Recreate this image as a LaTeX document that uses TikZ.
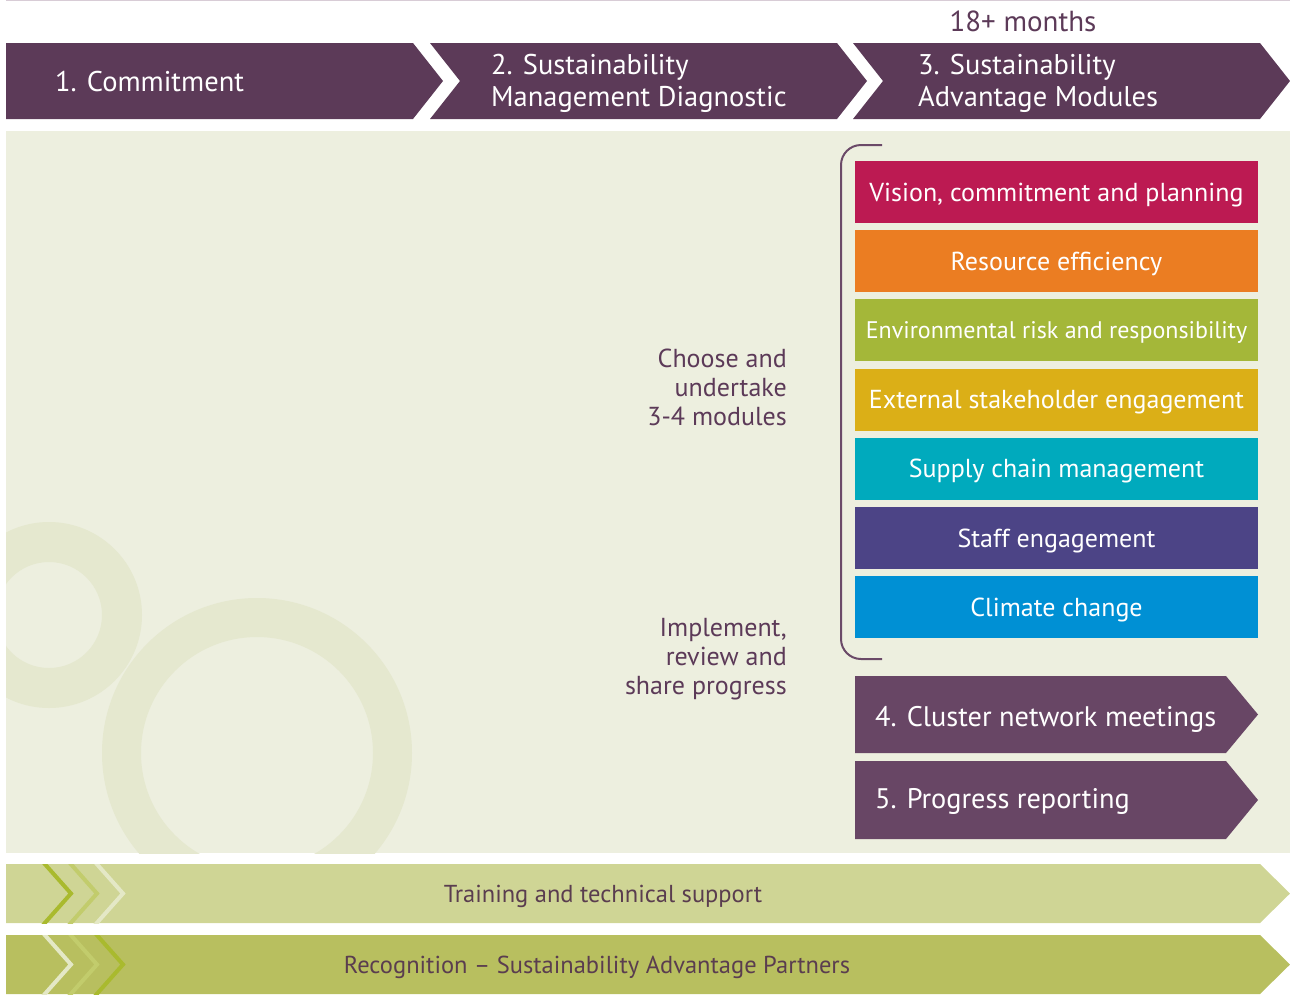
\documentclass[tikz,border=0pt]{standalone}
\usepackage{fontspec}
\setmainfont{PT Sans}
\definecolor{hdr}{HTML}{5C3A58}
\definecolor{topline}{HTML}{D8CCD6}
\definecolor{panel}{HTML}{EDEFDF}
\definecolor{ring}{HTML}{E5E8CF}
\definecolor{brk}{HTML}{6B4A68}
\definecolor{mvision}{HTML}{BC1A52}
\definecolor{mres}{HTML}{EB7D22}
\definecolor{menv}{HTML}{A4B739}
\definecolor{mext}{HTML}{DBAF17}
\definecolor{msup}{HTML}{00AABD}
\definecolor{mstaff}{HTML}{4C4486}
\definecolor{mclim}{HTML}{0090D4}
\definecolor{clus}{HTML}{684665}
\definecolor{barA}{HTML}{CFD595}
\definecolor{barB}{HTML}{B8BF5F}
\definecolor{chD}{HTML}{A9BA2E}
\definecolor{chM}{HTML}{C2CC6C}
\definecolor{chL}{HTML}{E4E8C6}
\definecolor{bartext}{HTML}{5A3D4F}
\tikzset{
  hdrtext/.style={text=white, font=\fontsize{28.5}{32}\selectfont, inner sep=0pt, align=left, anchor=west},
  modbox/.style={minimum width=403pt, minimum height=62pt, inner sep=0pt, text=white, text depth=0pt, font=\fontsize{26}{28}\selectfont},
  lbl/.style={text=hdr, font=\fontsize{26}{29}\selectfont, align=right, anchor=east, inner sep=0pt},
  clustext/.style={text=white, font=\fontsize{28.3}{32}\selectfont, anchor=west, inner sep=0pt, text depth=0pt},
  bartxt/.style={text=bartext, font=\fontsize{24.5}{28}\selectfont, inner sep=0pt, text depth=0pt},
  chev/.style={line width=4pt}
}
\begin{document}
\begin{tikzpicture}[x=1pt,y=-1pt]
\useasboundingbox (0,0) rectangle (1290,994);
\draw[topline, line width=1pt] (6,0.5) -- (1290,0.5);
% header
\fill[hdr] (6,43) -- (413,43) -- (443,81) -- (413,119) -- (6,119) -- cycle;
\fill[hdr] (430,43) -- (837,43) -- (867,81) -- (837,119) -- (430,119) -- (460,81) -- cycle;
\fill[hdr] (853,43) -- (1260,43) -- (1290,81) -- (1260,119) -- (853,119) -- (883,81) -- cycle;
\node[hdrtext, text depth=0pt] (h1) at (55,81) {1. Commitment};
\node[hdrtext] (h2) at (491,83) {2. Sustainability\\Management Diagnostic};
\node[hdrtext] (h3) at (918,83) {3. Sustainability\\Advantage Modules};
\node[text=hdr, font=\fontsize{29}{32}\selectfont, inner sep=0pt, text depth=0pt] (months) at (1023,21) {18+ months};
% panel
\fill[panel] (6,131) rectangle (1290,853);
\begin{scope}
\clip (6,131) rectangle (1290,853);
\fill[ring, even odd rule] (49,615) circle (93pt) (49,615) circle (53pt);
\fill[ring, even odd rule] (257,753) circle (155pt) (257,753) circle (116pt);
\end{scope}
% bracket
\draw[brk, line width=2pt, rounded corners=20pt] (882,145) -- (841,145) -- (841,659) -- (882,659);
% modules
\node[modbox, fill=mvision] (m1) at (1056.5,192) {Vision, commitment and planning};
\node[modbox, fill=mres] (m2) at (1056.5,261.2) {Resource efficiency};
\node[modbox, fill=menv, font=\fontsize{24}{28}\selectfont] (m3) at (1056.5,330.3) {Environmental risk and responsibility};
\node[modbox, fill=mext] (m4) at (1056.5,399.5) {External stakeholder engagement};
\node[modbox, fill=msup] (m5) at (1056.5,468.7) {Supply chain management};
\node[modbox, fill=mstaff] (m6) at (1056.5,537.8) {Staff engagement};
\node[modbox, fill=mclim] (m7) at (1056.5,607) {Climate change};
% labels
\node[lbl] (choose) at (787,387) {Choose and\\undertake\\3-4 modules};
\node[lbl] (impl) at (787,659) {Implement,\\review and\\share progress};
% cluster boxes
\fill[clus] (855,676) -- (1226,676) -- (1258,714.5) -- (1226,753) -- (855,753) -- cycle;
\fill[clus] (855,761) -- (1226,761) -- (1258,800) -- (1226,839) -- (855,839) -- cycle;
\node[clustext] (s4) at (875,716) {4. Cluster network meetings};
\node[clustext] (s5) at (875,798) {5. Progress reporting};
% bottom bars
\fill[barA] (6,864) -- (1260,864) -- (1290,893.5) -- (1260,923) -- (6,923) -- cycle;
\fill[barB] (6,935) -- (1260,935) -- (1290,964.5) -- (1260,994) -- (6,994) -- cycle;
\begin{scope}
\clip (6,864) rectangle (1290,923);
\draw[chev, chD] (43,862) -- (71,893.5) -- (43,925);
\draw[chev, chM] (69,862) -- (97,893.5) -- (69,925);
\draw[chev, chL] (95,862) -- (123,893.5) -- (95,925);
\end{scope}
\begin{scope}
\clip (6,935) rectangle (1290,994);
\draw[chev, chL] (43,933) -- (71,964.5) -- (43,996);
\draw[chev, chM] (69,933) -- (97,964.5) -- (69,996);
\draw[chev, chD] (95,933) -- (123,964.5) -- (95,996);
\end{scope}
\node[bartxt] (train) at (603,893.5) {Training and technical support};
\node[bartxt] (recog) at (597,964.5) {Recognition -- Sustainability Advantage Partners};
\end{tikzpicture}
\end{document}
